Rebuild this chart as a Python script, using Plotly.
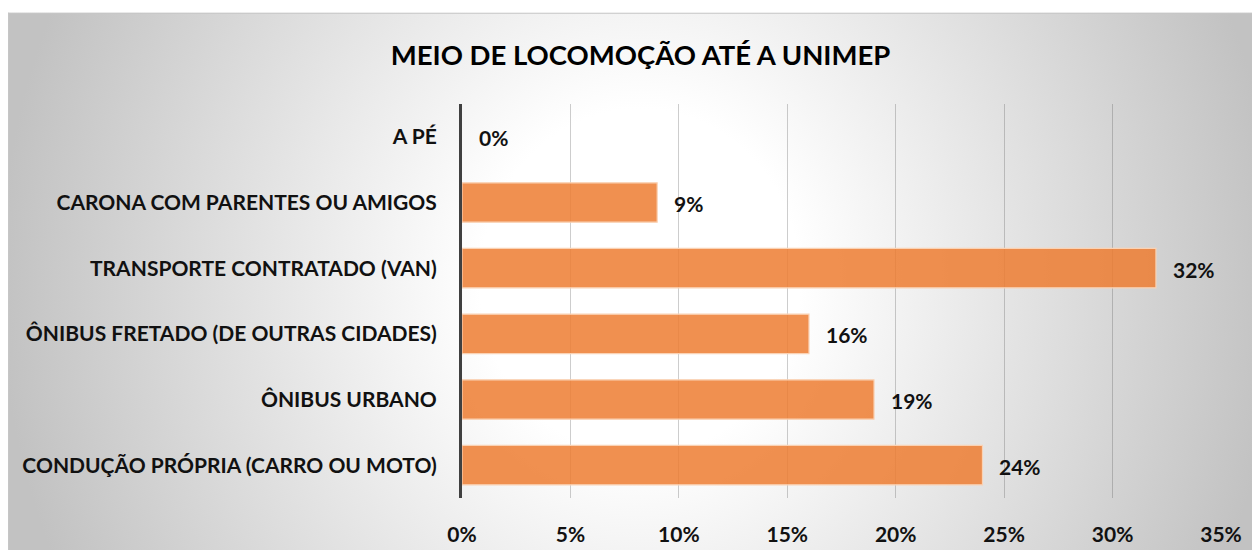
import base64
import plotly.graph_objects as go

categories = ["A PÉ", "CARONA COM PARENTES OU AMIGOS", "TRANSPORTE CONTRATADO (VAN)",
              "ÔNIBUS FRETADO (DE OUTRAS CIDADES)", "ÔNIBUS URBANO",
              "CONDUÇÃO PRÓPRIA (CARRO OU MOTO)"]
values = [0, 9, 32, 16, 19, 24]
x_ticks = [0, 5, 10, 15, 20, 25, 30, 35]
x_tick_labels = ["0%", "5%", "10%", "15%", "20%", "25%", "30%", "35%"]
title = "MEIO DE LOCOMOÇÃO ATÉ A UNIMEP"

# page has an 8px body margin, so the figure is 8px smaller
W, H = 1252, 550
L, R, T, B = 454, 39, 96, 53
pw, ph = W - L - R, H - T - B

# background gradient as an svg image
fx0, fy0 = 0, 3
fw, fh = W - fx0, H - fy0
cx, cy = 632 - fx0, 277 - fy0
svg = f'''<svg xmlns="http://www.w3.org/2000/svg" width="{fw}" height="{fh}" viewBox="0 0 {fw} {fh}">
<defs><radialGradient id="g" gradientUnits="userSpaceOnUse" cx="{cx}" cy="{cy}" r="640"
 gradientTransform="translate({cx} {cy}) scale(1 1.1) translate({-cx} {-cy})">
<stop offset="0" stop-color="#FFFFFF"/><stop offset="0.25" stop-color="#FFFFFF"/>
<stop offset="1" stop-color="#C2C2C2"/></radialGradient></defs>
<rect x="0" y="0" width="{fw}" height="{fh}" fill="url(#g)"/>
<line x1="0" y1="0.5" x2="{fw}" y2="0.5" stroke="#C6C6C6" stroke-width="1.5"/>
<line x1="0.5" y1="0" x2="0.5" y2="{fh}" stroke="#C6C6C6" stroke-width="1.5"/>
</svg>'''
src = "data:image/svg+xml;base64," + base64.b64encode(svg.encode()).decode()

FONT = "Lato"
fig = go.Figure()
fig.add_trace(go.Bar(
    x=values, y=categories, orientation="h",
    marker=dict(color="rgba(237,125,49,0.85)",
                line=dict(color="rgba(250,210,180,1)",
                          width=[0 if v == 0 else 1.2 for v in values])),
    hoverinfo="x+y",
))

for v, c in zip(values, categories):
    fig.add_annotation(x=v, y=c, text=f"{v}%", showarrow=False, xanchor="left", xshift=15,
                       yshift=-1,
                       font=dict(family=FONT, size=21, color="#111111", weight="bold"))

fig.add_layout_image(dict(
    source=src, xref="paper", yref="paper",
    x=(fx0 - L) / pw, y=1 + (T - fy0) / ph,
    sizex=fw / pw, sizey=fh / ph,
    xanchor="left", yanchor="top", sizing="stretch", layer="below",
))

fig.update_layout(
    width=W, height=H,
    margin=dict(l=L, r=R, t=T, b=B),
    paper_bgcolor="white", plot_bgcolor="rgba(0,0,0,0)",
    showlegend=False, bargap=0.4,
    title=dict(text=title, x=(632.5 - L) / pw, xref="paper", xanchor="center",
               y=1 - 47 / H, yanchor="middle",
               font=dict(family=FONT, size=27.5, color="#000000", weight="bold")),
    xaxis=dict(range=[0, 35], tickvals=x_ticks, ticktext=x_tick_labels,
               showgrid=True, gridcolor="rgba(90,90,90,0.3)", gridwidth=1,
               zeroline=False, showline=False, ticks="", ticklabelstandoff=22,
               tickfont=dict(family=FONT, size=21, color="#111111", weight="bold"),
               fixedrange=True),
    yaxis=dict(categoryorder="array", categoryarray=categories, autorange="reversed",
               showgrid=False, zeroline=False, showline=True, linecolor="#404040", linewidth=3,
               ticks="", ticklabelstandoff=18,
               tickfont=dict(family=FONT, size=21, color="#111111", weight="bold"),
               fixedrange=True),
)

fig.write_html("out.html")
